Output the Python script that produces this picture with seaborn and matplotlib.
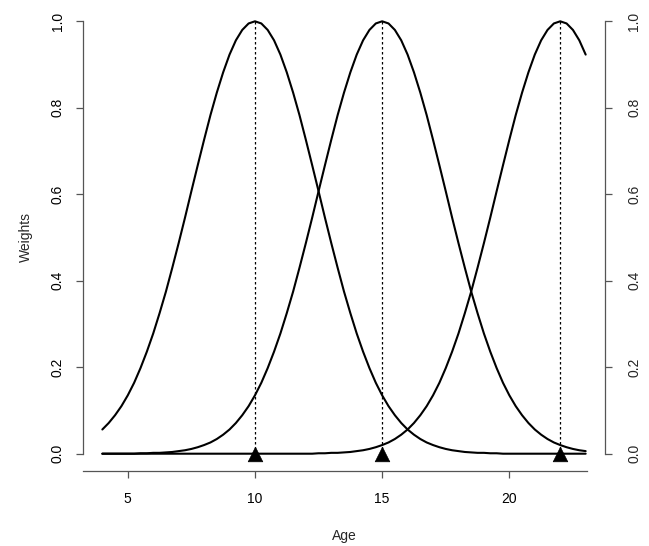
import matplotlib
matplotlib.use("Agg")
import matplotlib.pyplot as plt
import seaborn as sns
import pandas as pd

# ---- data ----
age = [4.0, 4.25, 4.5, 4.75, 5.0, 5.25, 5.5, 5.75, 6.0, 6.25, 6.5, 6.75,
       7.0, 7.25, 7.5, 7.75, 8.0, 8.25, 8.5, 8.75, 9.0, 9.25, 9.5, 9.75,
       10.0, 10.25, 10.5, 10.75, 11.0, 11.25, 11.5, 11.75, 12.0, 12.25, 12.5, 12.75,
       13.0, 13.25, 13.5, 13.75, 14.0, 14.25, 14.5, 14.75, 15.0, 15.25, 15.5, 15.75,
       16.0, 16.25, 16.5, 16.75, 17.0, 17.25, 17.5, 17.75, 18.0, 18.25, 18.5, 18.75,
       19.0, 19.25, 19.5, 19.75, 20.0, 20.25, 20.5, 20.75, 21.0, 21.25, 21.5, 21.75,
       22.0, 22.25, 22.5, 22.75, 23.0]

weights_10 = [0.056, 0.071, 0.089, 0.110, 0.135, 0.164, 0.198, 0.236, 0.278, 0.325,
              0.375, 0.430, 0.487, 0.546, 0.607, 0.667, 0.726, 0.783, 0.835, 0.882,
              0.923, 0.956, 0.980, 0.995, 1.000,
              0.995, 0.980, 0.956, 0.923, 0.882, 0.835, 0.783, 0.726, 0.667, 0.607,
              0.546, 0.487, 0.430, 0.375, 0.325, 0.278, 0.236, 0.198, 0.164, 0.135,
              0.110, 0.089, 0.071, 0.056, 0.044, 0.034, 0.026, 0.020, 0.015, 0.011,
              0.008, 0.006, 0.004, 0.003, 0.002, 0.002, 0.001, 0.001,
              0.0, 0.0, 0.0, 0.0, 0.0, 0.0, 0.0, 0.0, 0.0, 0.0,
              0.0, 0.0, 0.0, 0.0]

weights_15 = [0.0, 0.0, 0.0, 0.0, 0.0, 0.0,
              0.001, 0.001, 0.002, 0.002, 0.003, 0.004, 0.006, 0.008, 0.011, 0.015,
              0.020, 0.026, 0.034, 0.044, 0.056, 0.071, 0.089, 0.110, 0.135, 0.164,
              0.198, 0.236, 0.278, 0.325, 0.375, 0.430, 0.487, 0.546, 0.607, 0.667,
              0.726, 0.783, 0.835, 0.882, 0.923, 0.956, 0.980, 0.995, 1.000,
              0.995, 0.980, 0.956, 0.923, 0.882, 0.835, 0.783, 0.726, 0.667, 0.607,
              0.546, 0.487, 0.430, 0.375, 0.325, 0.278, 0.236, 0.198, 0.164, 0.135,
              0.110, 0.089, 0.071, 0.056, 0.044, 0.034, 0.026, 0.020, 0.015, 0.011,
              0.008, 0.006]

weights_22 = [0.0, 0.0, 0.0, 0.0, 0.0, 0.0, 0.0, 0.0, 0.0, 0.0,
              0.0, 0.0, 0.0, 0.0, 0.0, 0.0, 0.0, 0.0, 0.0, 0.0,
              0.0, 0.0, 0.0, 0.0, 0.0, 0.0, 0.0, 0.0, 0.0, 0.0,
              0.0, 0.0, 0.0, 0.0,
              0.001, 0.001, 0.002, 0.002, 0.003, 0.004, 0.006, 0.008, 0.011, 0.015,
              0.020, 0.026, 0.034, 0.044, 0.056, 0.071, 0.089, 0.110, 0.135, 0.164,
              0.198, 0.236, 0.278, 0.325, 0.375, 0.430, 0.487, 0.546, 0.607, 0.667,
              0.726, 0.783, 0.835, 0.882, 0.923, 0.956, 0.980, 0.995, 1.000,
              0.995, 0.980, 0.956, 0.923]

centers = [10, 15, 22]
x_ticks = [5, 10, 15, 20]
y_ticks = [0.0, 0.2, 0.4, 0.6, 0.8, 1.0]
y_ticklabels = ["0.0", "0.2", "0.4", "0.6", "0.8", "1.0"]

# ---- build long table ----
df = pd.concat([
    pd.DataFrame({"Age": age, "Weight": weights_10, "curve": "c10"}),
    pd.DataFrame({"Age": age, "Weight": weights_15, "curve": "c15"}),
    pd.DataFrame({"Age": age, "Weight": weights_22, "curve": "c22"}),
])
peaks = pd.DataFrame({"Age": centers, "Weight": [0.0] * len(centers)})

sns.set_style("white")
plt.rcParams["font.family"] = ["Liberation Sans", "DejaVu Sans"]
plt.rcParams["font.size"] = 10

W, H = 649, 546
fig = plt.figure(figsize=(W / 100, H / 100), dpi=100)
ax = fig.add_axes([83 / W, 75 / H, (605 - 83) / W, (471 - 4) / H])

axis_col = "#555555"

# dashed verticals at centers
for c in centers:
    ax.plot([c, c], [0, 1], color="black", lw=0.9, linestyle=(0, (2, 2)), zorder=2)

sns.lineplot(data=df, x="Age", y="Weight", hue="curve", units="curve",
             estimator=None, palette=["black"] * 3, legend=False,
             linewidth=1.5, ax=ax, zorder=3)
sns.scatterplot(data=peaks, x="Age", y="Weight", marker="^", color="black",
                s=110, edgecolor="black", linewidth=0.5, ax=ax, zorder=4)

ax.set_xlim(3.24, 23.76)
ax.set_ylim(-0.04, 1.04)

# spines R-style
ax.spines["top"].set_visible(False)
ax.spines["right"].set_visible(False)
for s in ["left", "bottom"]:
    ax.spines[s].set_color(axis_col)
    ax.spines[s].set_linewidth(0.9)
ax.spines["left"].set_bounds(0, 1)
ax.spines["bottom"].set_bounds(3.24, 23.05)

ax.set_xticks(x_ticks)
ax.set_xticklabels([str(t) for t in x_ticks])
ax.set_yticks(y_ticks)
ax.set_yticklabels(y_ticklabels, rotation=90, va="center")
ax.tick_params(axis="both", direction="out", length=5, width=0.9,
               color=axis_col, labelsize=10, labelcolor="black")
ax.tick_params(axis="x", pad=10, bottom=True)
ax.tick_params(axis="y", pad=8, left=True)

ax.set_xlabel("Age", fontsize=10, labelpad=17)
ax.set_ylabel("Weights", fontsize=10, labelpad=13)

# right axis
ax2 = ax.twinx()
ax2.set_ylim(-0.04, 1.04)
for s in ["top", "left", "bottom"]:
    ax2.spines[s].set_visible(False)
ax2.spines["right"].set_color(axis_col)
ax2.spines["right"].set_linewidth(0.9)
ax2.spines["right"].set_bounds(0, 1)
ax2.set_yticks(y_ticks)
ax2.set_yticklabels(y_ticklabels, rotation=90, va="center")
ax2.tick_params(axis="y", direction="out", length=5, width=0.9, color=axis_col,
                labelsize=10, pad=11, right=True)

fig.savefig("out.png", dpi=100)
